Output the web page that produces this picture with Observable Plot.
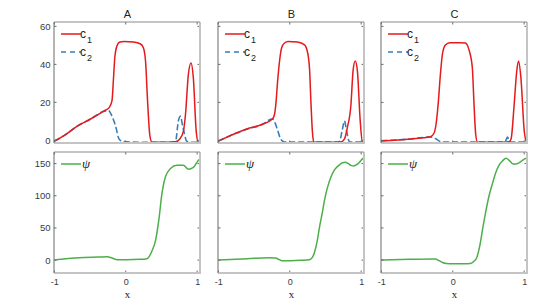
<!DOCTYPE html>
<html><head><meta charset="utf-8">
<script src="https://cdn.jsdelivr.net/npm/d3@7"></script>
<script src="https://cdn.jsdelivr.net/npm/@observablehq/plot@0.6"></script>
<style>
html,body{margin:0;padding:0;background:#fff;}
#fig{position:relative;width:543px;height:304px;overflow:hidden;background:#fff;}
#fig svg{position:absolute;overflow:visible;background:transparent;}
</style></head><body><div id="fig"></div>
<script>
// ---- tick labels / titles ----
const xTicks = [-1, 0, 1];
const yTicksC = [0, 20, 40, 60];
const yTicksPsi = [0, 50, 100, 150];
const panelTitles = ["A", "B", "C"];

// ---- Panel A ----
const xA_c1 = [-1,-0.85,-0.68,-0.5,-0.31,-0.24,-0.2,-0.18,-0.16,-0.13,-0.09,-0.03,0.1,0.2,0.24,0.27,0.3,0.33,0.36,0.6,0.69,0.75,0.8,0.83,0.87,0.907,0.94,0.98,1.01,1.04];
const yA_c1 = [0,3.3,7.9,11.5,15.8,17.5,21,32,44,50,52,52.3,52,51,49,42,20,3,-0.7,-0.7,-0.5,1,5,14,35,41,33,5,-0.7,-0.7];
const xA_c2 = [-1,-0.85,-0.68,-0.5,-0.31,-0.25,-0.2,-0.15,-0.1,-0.05,0,0.3,0.6,0.69,0.73,0.757,0.795,0.85,0.95,1.04];
const yA_c2 = [0,3.3,7.9,11.5,15.6,16,13,7.9,0.9,-0.3,-0.5,-0.8,-0.8,-0.3,10.5,13,7,-0.3,-0.8,-0.8];
const xA_psi = [-1,-0.85,-0.59,-0.4,-0.265,-0.2,-0.125,0,0.2,0.29,0.36,0.41,0.455,0.5,0.548,0.62,0.71,0.8,0.87,0.94,1.02,1.04];
const yA_psi = [1,3,5,5.5,6,4,1.5,1.5,2,3,15,31,62,104,130,143,148,148,142,145,157,158];

// ---- Panel B ----
const xB_c1 = [-1,-0.62,-0.4,-0.25,-0.22,-0.2,-0.18,-0.15,-0.12,-0.08,-0.03,0.1,0.2,0.24,0.27,0.29,0.31,0.33,0.6,0.71,0.76,0.8,0.85,0.88,0.91,0.94,0.98,1.01,1.04];
const yB_c1 = [0,6.1,8.6,11.5,14,20,30,42,49,51.5,52.3,52,50.5,47,38,20,5,-0.7,-0.7,-0.6,1,7,19,37,42,37,10.5,-0.7,-0.7];
const xB_c2 = [-1,-0.62,-0.4,-0.25,-0.22,-0.18,-0.14,-0.1,-0.05,0.3,0.65,0.69,0.73,0.76,0.79,0.83,0.9,1.04];
const yB_c2 = [0,6,8.5,11.5,10,6,1.5,-0.3,-0.7,-0.7,-0.7,-0.3,6,10.5,5,-0.5,-0.7,-0.7];
const xB_psi = [-1,-0.6,-0.3,-0.21,-0.16,-0.12,0,0.15,0.27,0.31,0.34,0.38,0.41,0.45,0.48,0.52,0.57,0.62,0.68,0.73,0.77,0.81,0.85,0.89,0.93,0.97,1.01,1.04];
const yB_psi = [1,3,4.5,4,2,0,0,0.5,1.5,5,13,32,52,75,94,113,130,141,148,152,153,151,148,147,149,153,158,160];

// ---- Panel C ----
const xC_c1 = [-1,-0.6,-0.32,-0.27,-0.24,-0.21,-0.18,-0.15,-0.11,-0.05,0.1,0.17,0.22,0.267,0.29,0.314,0.34,0.7,0.78,0.81,0.853,0.89,0.915,0.948,0.995,1.03,1.04];
const yC_c1 = [0,1,2.1,4,9,20,35,46,50.5,51.7,51.7,51.5,48,38.6,20,3.6,-0.7,-0.7,-0.5,1,19,37,42,33,5,-0.7,-0.7];
const xC_c2 = [-1,-0.6,-0.32,-0.25,-0.2,-0.15,0.3,0.7,0.74,0.76,0.78,0.8,1.04];
const yC_c2 = [0,1,2,1.2,0,-0.7,-0.7,-0.7,0.5,2,0.5,-0.7,-0.7];
const xC_psi = [-1,-0.6,-0.3,-0.25,-0.2,-0.15,-0.1,0,0.15,0.24,0.29,0.33,0.37,0.41,0.45,0.5,0.55,0.6,0.64,0.69,0.74,0.79,0.84,0.88,0.92,0.96,1.0,1.04];
const yC_psi = [1,2,2.5,2.5,0,-3,-4.5,-5,-5,-4.5,-1,5,22,48,73,100,120,138,148,155,159,155,150,150,152,155,158,159];

const rows = (xs, ys) => xs.map((x, i) => ({x, y: ys[i]}));

const panels = [
  {c1: rows(xA_c1, yA_c1), c2: rows(xA_c2, yA_c2), psi: rows(xA_psi, yA_psi)},
  {c1: rows(xB_c1, yB_c1), c2: rows(xB_c2, yB_c2), psi: rows(xB_psi, yB_psi)},
  {c1: rows(xC_c1, yC_c1), c2: rows(xC_c2, yC_c2), psi: rows(xC_psi, yC_psi)}
];

const RED = "#e41a1c", BLUE = "#377eb8", GREEN = "#4daf4a";
const panelLeft = [54, 217.5, 381];
const topRowTop = 22, botRowTop = 152;
const PW = 146, PH = 121;
const M = {l: 30, r: 6, t: 20, b: 30};
const fig = document.getElementById("fig");

function frameMark(xt, yt) {
  return (index, scales, values, dim) => {
    const ml = dim.marginLeft, mt = dim.marginTop;
    const x0 = ml, x1 = dim.width - dim.marginRight, y0 = mt, y1 = dim.height - dim.marginBottom;
    const g = d3.create("svg:g");
    const tk = 2.5;
    const dark = "#6a6a6a";
    for (const v of xt) {
      const px = scales.x(v);
      g.append("line").attr("x1", px).attr("x2", px).attr("y1", y1).attr("y2", y1 - tk).attr("stroke", dark);
      g.append("line").attr("x1", px).attr("x2", px).attr("y1", y0).attr("y2", y0 + tk).attr("stroke", dark);
    }
    for (const v of yt) {
      const py = scales.y(v);
      g.append("line").attr("x1", x0).attr("x2", x0 + tk).attr("y1", py).attr("y2", py).attr("stroke", dark);
      g.append("line").attr("x1", x1).attr("x2", x1 - tk).attr("y1", py).attr("y2", py).attr("stroke", dark);
    }
    g.append("line").attr("x1", x1).attr("x2", x1).attr("y1", y0).attr("y2", y1).attr("stroke", "#c4c4c4").attr("stroke-width", 2);
    g.append("line").attr("x1", x0).attr("x2", x1 + 1).attr("y1", y1).attr("y2", y1).attr("stroke", "#c4c4c4").attr("stroke-width", 2);
    g.append("line").attr("x1", x0).attr("x2", x0).attr("y1", y0).attr("y2", y1).attr("stroke", dark).attr("stroke-width", 1);
    g.append("line").attr("x1", x0).attr("x2", x1).attr("y1", y0).attr("y2", y0).attr("stroke", "#8a8a8a").attr("stroke-width", 1);
    return g.node();
  };
}

function legendMark(items) {
  return (index, scales, values, dim) => {
    const ml = dim.marginLeft, mt = dim.marginTop;
    const g = d3.create("svg:g");
    items.forEach((it) => {
      const y = mt + it.dy;
      g.append("line").attr("x1", ml + 7).attr("x2", ml + 27).attr("y1", y).attr("y2", y)
        .attr("stroke", it.color).attr("stroke-width", 1.5)
        .attr("stroke-dasharray", it.dash || null);
      const t = g.append("text").attr("x", ml + 32).attr("y", y + 3.5)
        .attr("fill", "#222").attr("font-size", it.fontSize || 12)
        .attr("font-family", it.font || "'Liberation Sans', Arial, sans-serif")
        .attr("font-style", it.italic ? "italic" : null);
      t.append("tspan").text(it.label);
      if (it.sub) t.append("tspan").attr("dx", 1).attr("dy", 5).attr("font-size", 9).text(it.sub);
    });
    return g.node();
  };
}

const baseStyle = {fontFamily: "'Liberation Sans', Arial, sans-serif", fontSize: "9.5px", color: "#3a3a3a", background: "transparent", overflow: "visible"};

panels.forEach((p, i) => {
  // top row: concentrations
  const topMarks = [
    Plot.line(p.c2, {x: "x", y: "y", stroke: BLUE, strokeWidth: 1.6, strokeDasharray: "5,4", curve: "monotone-x", clip: true}),
    Plot.line(p.c1, {x: "x", y: "y", stroke: RED, strokeWidth: 1.5, curve: "monotone-x", clip: true}),
    frameMark(xTicks, yTicksC),
    legendMark([
      {dy: 12, color: RED, label: "c", sub: "1"},
      {dy: 30, color: BLUE, dash: "5,4", label: "c", sub: "2"}
    ]),
    Plot.text([panelTitles[i]], {frameAnchor: "top", dy: -5, lineAnchor: "bottom", fontSize: 11, fill: "#222", text: d => d})
  ];
  if (i === 0) topMarks.push(Plot.axisY(yTicksC, {tickSize: 0, tickPadding: 4, label: null}));
  const top = Plot.plot({
    width: PW + M.l + M.r, height: PH + M.t + M.b,
    marginLeft: M.l, marginRight: M.r, marginTop: M.t, marginBottom: M.b,
    x: {domain: [-1.005, 1.04], axis: null},
    y: {domain: [-1.4, 62.3], axis: null},
    style: baseStyle,
    marks: topMarks
  });
  top.style.left = (panelLeft[i] - M.l) + "px";
  top.style.top = (topRowTop - M.t) + "px";
  fig.appendChild(top);

  // bottom row: potential
  const botMarks = [
    Plot.line(p.psi, {x: "x", y: "y", stroke: GREEN, strokeWidth: 1.5, curve: "monotone-x", clip: true}),
    frameMark(xTicks, yTicksPsi),
    legendMark([{dy: 12, color: GREEN, label: "ψ", font: "'Liberation Serif', 'DejaVu Serif', serif", italic: true, fontSize: 13}]),
    Plot.axisX(xTicks, {tickSize: 0, tickPadding: 5, fontSize: 9, label: null, tickFormat: d => d === -1 ? "-1" : String(d)}),
    Plot.text(["x"], {frameAnchor: "bottom", dy: 17, lineAnchor: "top", fontSize: 11, fill: "#222", fontFamily: "'Liberation Serif', serif", text: d => d})
  ];
  if (i === 0) botMarks.push(Plot.axisY(yTicksPsi, {tickSize: 0, tickPadding: 4, label: null}));
  const bot = Plot.plot({
    width: PW + M.l + M.r, height: PH + M.t + M.b,
    marginLeft: M.l, marginRight: M.r, marginTop: M.t, marginBottom: M.b,
    x: {domain: [-1.005, 1.04], axis: null},
    y: {domain: [-20, 168], axis: null},
    style: baseStyle,
    marks: botMarks
  });
  bot.style.left = (panelLeft[i] - M.l) + "px";
  bot.style.top = (botRowTop - M.t) + "px";
  fig.appendChild(bot);
});
</script>
</body></html>
